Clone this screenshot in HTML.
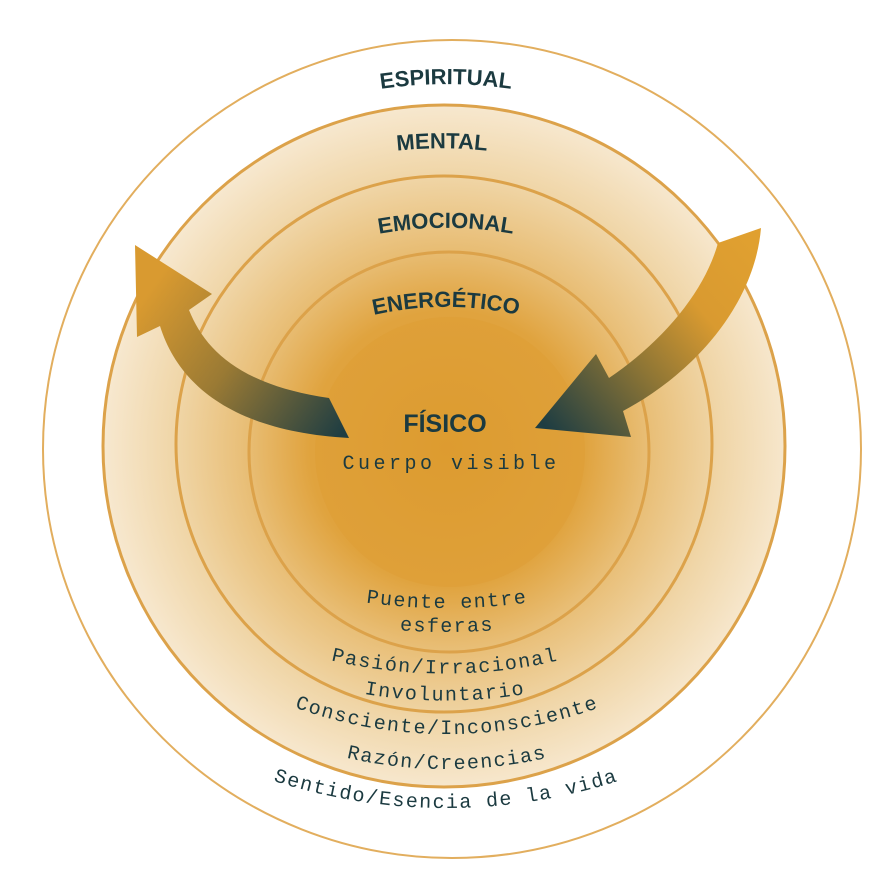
<!DOCTYPE html>
<html><head><meta charset="utf-8"><style>
html,body{margin:0;padding:0;background:#fff;}
svg{display:block;}
.t{font-family:"Liberation Sans",sans-serif;font-weight:bold;fill:#1b3a40;}
.m{font-family:"Liberation Mono",monospace;fill:#1b3a40;}
</style></head><body>
<svg width="896" height="892" viewBox="0 0 896 892" xmlns="http://www.w3.org/2000/svg">
<defs>
<radialGradient id="g1" cx="447" cy="448" r="343" gradientUnits="userSpaceOnUse">
<stop offset="0" stop-color="#dd9c30"/>
<stop offset="0.4" stop-color="#e0a33e"/>
<stop offset="0.58" stop-color="#e8bd74"/>
<stop offset="0.8" stop-color="#f0d6a8"/>
<stop offset="1" stop-color="#f7e8cf"/>
</radialGradient>
<linearGradient id="la" x1="150" y1="290" x2="345" y2="430" gradientUnits="userSpaceOnUse">
<stop offset="0" stop-color="#d99a30"/>
<stop offset="0.45" stop-color="#9a7a34"/>
<stop offset="1" stop-color="#1e3d42"/>
</linearGradient>
<linearGradient id="ra" x1="540" y1="420" x2="750" y2="240" gradientUnits="userSpaceOnUse">
<stop offset="0" stop-color="#1e3d42"/>
<stop offset="0.4" stop-color="#8d7535"/>
<stop offset="0.7" stop-color="#d99a30"/>
<stop offset="1" stop-color="#e0a030"/>
</linearGradient>
<path id="p1" d="M 196 160 A 450 450 0 0 1 696 160"/>
<path id="p2" d="M 242 199 A 420 420 0 0 1 642 199"/>
<path id="p3" d="M 276 268 A 380 380 0 0 1 616 268"/>
<path id="p4" d="M 296 343 A 330 330 0 0 1 596 343"/>
<path id="b1" d="M 297 589 A 600 600 0 0 0 597 589"/>
<path id="b2" d="M 297 613 A 600 600 0 0 0 597 613"/>
<path id="b3" d="M 265 640 A 500 500 0 0 0 625 640"/>
<path id="b4" d="M 265 667 A 500 500 0 0 0 625 667"/>
<path id="b5" d="M 257 692 A 450 450 0 0 0 637 692"/>
<path id="b6" d="M 257 727 A 450 450 0 0 0 637 727"/>
<path id="b7" d="M 226 763 A 560 560 0 0 0 666 763"/>
</defs>
<circle cx="452" cy="449" r="409" fill="#fff" stroke="#e2ae5e" stroke-width="2"/>
<circle cx="444" cy="446" r="341" fill="url(#g1)" stroke="#dca24a" stroke-width="3"/>
<circle cx="444" cy="444" r="268" fill="none" stroke="#dca24a" stroke-width="3"/>
<circle cx="449" cy="452" r="200" fill="none" stroke="#dca24a" stroke-width="3"/>
<circle cx="450" cy="452" r="135" fill="#dd9c30" opacity="0.35"/>
<path d="M135 245 L212 294 L189 310 C205 350 240 385 329 398 L349 438 C240 432 180 390 160 326 L137 337 Z" fill="url(#la)"/>
<path d="M761 228 C755 300 700 370 623 411 L631 437 L535 428 L596 354 L609 378 C665 340 705 290 718 243 Z" fill="url(#ra)"/>
<text class="t" font-size="22"><textPath href="#p1" startOffset="50%" text-anchor="middle">ESPIRITUAL</textPath></text>
<text class="t" font-size="22"><textPath href="#p2" startOffset="50%" text-anchor="middle">MENTAL</textPath></text>
<text class="t" font-size="22"><textPath href="#p3" startOffset="50%" text-anchor="middle">EMOCIONAL</textPath></text>
<text class="t" font-size="22"><textPath href="#p4" startOffset="50%" text-anchor="middle">ENERGÉTICO</textPath></text>
<text class="t" x="445" y="432" font-size="25" text-anchor="middle">FÍSICO</text>
<text class="m" x="451" y="469" font-size="20" text-anchor="middle" letter-spacing="3.5">Cuerpo visible</text>
<g font-size="20" letter-spacing="1.5">
<text class="m"><textPath href="#b1" startOffset="50%" text-anchor="middle">Puente entre</textPath></text>
<text class="m"><textPath href="#b2" startOffset="50%" text-anchor="middle">esferas</textPath></text>
<text class="m"><textPath href="#b3" startOffset="50%" text-anchor="middle">Pasión/Irracional</textPath></text>
<text class="m"><textPath href="#b4" startOffset="50%" text-anchor="middle">Involuntario</textPath></text>
<text class="m"><textPath href="#b5" startOffset="50%" text-anchor="middle">Consciente/Inconsciente</textPath></text>
<text class="m"><textPath href="#b6" startOffset="50%" text-anchor="middle">Razón/Creencias</textPath></text>
<text class="m"><textPath href="#b7" startOffset="50%" text-anchor="middle">Sentido/Esencia de la vida</textPath></text>
</g>
</svg>
</body></html>
